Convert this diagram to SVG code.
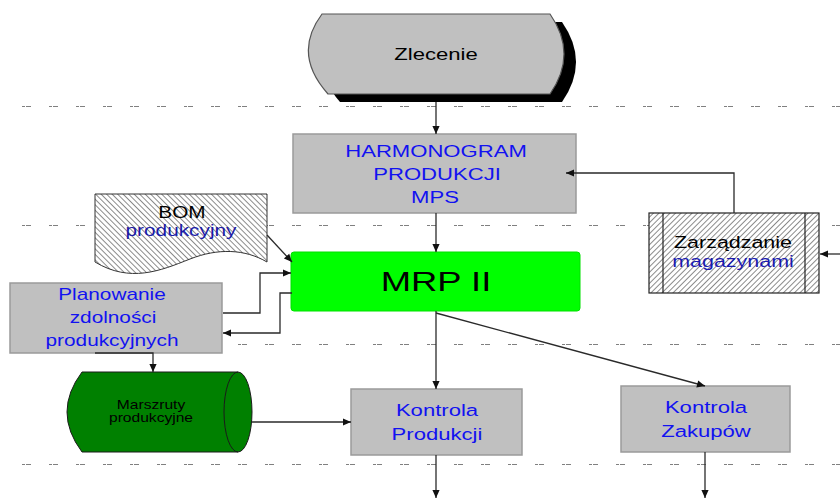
<svg xmlns="http://www.w3.org/2000/svg" width="840" height="498" viewBox="0 0 840 498">
  <defs>
    <style>
      text { font-family: "Liberation Sans", Arial, sans-serif; text-anchor: middle; }
      .blue { fill: #1212f0; }
      .dark { fill: #000000; }
      .box { fill: #c0c0c0; stroke: #9a9a9a; stroke-width: 1.5; }
      .grid { fill: none; stroke: #808080; stroke-width: 1; stroke-dasharray: 3 1 5 18; }
      .conn { fill: none; stroke: #2a2a2a; stroke-width: 1.3; marker-end: url(#ah); }
    </style>
    <marker id="ah" viewBox="0 0 10 10" refX="10" refY="5" markerWidth="9" markerHeight="8" markerUnits="userSpaceOnUse" orient="auto">
      <path d="M0,0.5 L10,5 L0,9.5 Z" fill="#111"/>
    </marker>
    <pattern id="hatchBack" patternUnits="userSpaceOnUse" width="3.9" height="3.9" patternTransform="rotate(-45)">
      <rect width="3.9" height="3.9" fill="#ffffff"/>
      <line x1="0" y1="0" x2="0" y2="3.9" stroke="#000" stroke-width="0.9"/>
    </pattern>
    <pattern id="hatchFwd" patternUnits="userSpaceOnUse" width="3.9" height="3.9" patternTransform="rotate(45)">
      <rect width="3.9" height="3.9" fill="#ffffff"/>
      <line x1="0" y1="0" x2="0" y2="3.9" stroke="#000" stroke-width="0.9"/>
    </pattern>
  </defs>

  <rect width="840" height="498" fill="#ffffff"/>

  <!-- swimlane separators -->
  <g id="lanes">
    <line class="grid" x1="22" y1="106.5" x2="840" y2="106.5"/>
    <line class="grid" x1="22" y1="225.5" x2="840" y2="225.5"/>
    <line class="grid" x1="22" y1="344.5" x2="840" y2="344.5"/>
    <line class="grid" x1="22" y1="464.5" x2="840" y2="464.5"/>
  </g>

  <!-- order terminator with drop shadow -->
  <g id="zlecenie">
    <path d="M334,22 L562,22 Q590,62 562,102 L340,102 Q306,62 334,22 Z" fill="#000"/>
    <path d="M322,14 L550,14 Q578,54 550,94 L328,94 Q292,54 322,14 Z" fill="#c0c0c0" stroke="#555" stroke-width="1.2"/>
    <text class="dark" font-size="17" transform="translate(436 60) scale(1.3 1)">Zlecenie</text>
  </g>

  <g id="harmonogram">
    <rect class="box" x="293" y="134" width="283" height="79"/>
    <text class="blue" font-size="17" transform="translate(436 157) scale(1.3 1)">HARMONOGRAM</text>
    <text class="blue" font-size="17" transform="translate(437 180) scale(1.3 1)">PRODUKCJI</text>
    <text class="blue" font-size="17" transform="translate(435 203) scale(1.3 1)">MPS</text>
  </g>

  <g id="bom">
    <path d="M95,194 H267 V262 C245,249 218,248 190,259 C160,271 130,283 95,262 Z" fill="url(#hatchBack)" stroke="#333" stroke-width="1"/>
    <text class="dark" font-size="16" transform="translate(182 218) scale(1.3 1)">BOM</text>
    <text fill="#1a1aa8" font-size="16" transform="translate(181 236) scale(1.3 1)">produkcyjny</text>
  </g>

  <g id="mrp">
    <rect x="291" y="252" width="289" height="59" rx="3" fill="#00ff00" stroke="#00e000" stroke-width="1"/>
    <text class="dark" font-size="28" transform="translate(436 291) scale(1.3 1)">MRP II</text>
  </g>

  <g id="zarzadzanie">
    <rect x="649" y="213" width="170" height="80" fill="url(#hatchFwd)" stroke="#222" stroke-width="1.2"/>
    <line x1="663" y1="213" x2="663" y2="293" stroke="#222" stroke-width="1.2"/>
    <line x1="805" y1="213" x2="805" y2="293" stroke="#222" stroke-width="1.2"/>
    <text class="dark" font-size="16.5" transform="translate(733 248) scale(1.3 1)">Zarządzanie</text>
    <text fill="#1a1ab0" font-size="16.5" transform="translate(733 267) scale(1.3 1)">magazynami</text>
  </g>

  <g id="planowanie">
    <rect class="box" x="10" y="283" width="212" height="70"/>
    <text class="blue" font-size="16" transform="translate(112 300) scale(1.3 1)">Planowanie</text>
    <text class="blue" font-size="16" transform="translate(113 323) scale(1.3 1)">zdolności</text>
    <text class="blue" font-size="16" transform="translate(112 346) scale(1.3 1)">produkcyjnych</text>
  </g>

  <g id="marszruty">
    <path d="M82,372 L238,372 A14,40 0 0 1 238,452 L82,452 Q52,412 82,372 Z" fill="#008000" stroke="#1a1a1a" stroke-width="1"/>
    <path d="M238,372 A14,40 0 0 0 238,452" fill="none" stroke="#1a1a1a" stroke-width="1"/>
    <text class="dark" font-size="12" transform="translate(151 409) scale(1.3 1)">Marszruty</text>
    <text class="dark" font-size="12" transform="translate(151 422) scale(1.3 1)">produkcyjne</text>
  </g>

  <g id="kontrola-produkcji">
    <rect class="box" x="351" y="389" width="171" height="66"/>
    <text class="blue" font-size="17" transform="translate(437 416) scale(1.3 1)">Kontrola</text>
    <text class="blue" font-size="17" transform="translate(437 440) scale(1.3 1)">Produkcji</text>
  </g>

  <g id="kontrola-zakupow">
    <rect class="box" x="621" y="386" width="169" height="66"/>
    <text class="blue" font-size="17" transform="translate(706 413) scale(1.3 1)">Kontrola</text>
    <text class="blue" font-size="17" transform="translate(706 437) scale(1.3 1)">Zakupów</text>
  </g>

  <g id="connectors">
    <path class="conn" d="M436,102 V134"/>
    <path class="conn" d="M436,213 V252"/>
    <path class="conn" d="M267,235 L292,262"/>
    <path class="conn" d="M223,313 H260 V273 H291"/>
    <path class="conn" d="M292,293 H280 V333 H223"/>
    <path class="conn" d="M95,353 H153 V372"/>
    <path class="conn" d="M252,422 H351"/>
    <path class="conn" d="M436,311 V389"/>
    <path class="conn" d="M436,313 L705,386"/>
    <path class="conn" d="M436,455 V498"/>
    <path class="conn" d="M705,452 V498"/>
    <path class="conn" d="M734,213 V173 H566"/>
    <path class="conn" d="M840,254 H820"/>
  </g>
</svg>
